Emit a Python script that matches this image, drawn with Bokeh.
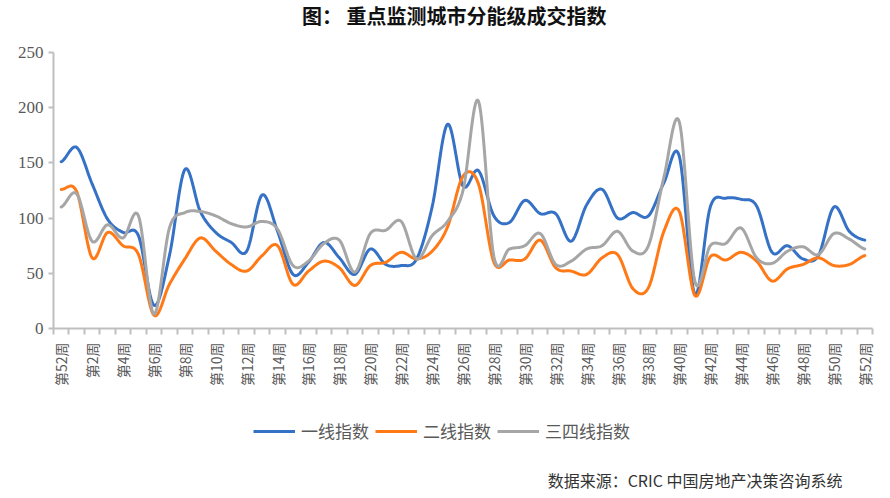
import numpy as np
from bokeh.plotting import figure
from bokeh.layouts import column
from bokeh.models import (FixedTicker, Legend, LegendItem, Range1d, Label)
from bokeh.embed import file_html
from bokeh.resources import INLINE

# ---- data ----
weeks = [52] + list(range(1, 53))
week_labels = ["第%d周" % w for w in weeks]
tier1 = [151, 164, 131, 99, 87, 84, 21, 66, 144, 106, 87, 78, 70, 121, 88, 49,
         60, 78, 64, 49, 72, 58, 57, 63, 110, 185, 129, 143, 102, 96, 116, 104, 104, 79,
         112, 126, 100, 105, 102, 132, 156, 31, 110, 118, 117, 111, 69, 75, 63, 66, 110, 88, 80]
tier2 = [126, 124, 64, 87, 75, 67, 12, 40, 63, 82, 70, 58, 52, 66, 75, 40,
         52, 61, 55, 39, 57, 60, 69, 63, 70, 92, 138, 131, 60, 62, 63, 80, 55, 52,
         49, 64, 67, 36, 37, 88, 106, 30, 65, 62, 69, 61, 43, 54, 58, 64, 57, 58, 66]
tier34 = [110, 122, 79, 94, 82, 102, 13, 91, 105, 106, 102, 95, 92, 97, 90, 57,
          61, 77, 80, 51, 86, 89, 97, 63, 84, 97, 125, 206, 65, 72, 75, 86, 58, 61,
          72, 75, 88, 70, 75, 137, 187, 43, 75, 77, 91, 64, 59, 70, 74, 67, 86, 81, 72]
series_names = ["一线指数", "二线指数", "三四线指数"]
series_colors = ["#3572C6", "#FF7A16", "#A6A6A6"]
y_ticks = [0, 50, 100, 150, 200, 250]
title_text = "图：  重点监测城市分能级成交指数"
source_text = "数据来源：CRIC 中国房地产决策咨询系统"

W = 882
LEFT, RIGHT = 53, 10
HEAD_H, MAIN_H, FOOT_H = 30, 378, 84


def smooth(ys, n=16):
    y = np.asarray(ys, dtype=float)
    m = len(y)
    xs_out, ys_out = [], []
    for i in range(m - 1):
        p0 = y[i - 1] if i > 0 else y[i]
        p1, p2 = y[i], y[i + 1]
        p3 = y[i + 2] if i + 2 < m else y[i + 1]
        t = np.linspace(0, 1, n, endpoint=(i == m - 2))
        yy = 0.5 * ((2 * p1) + (-p0 + p2) * t + (2 * p0 - 5 * p1 + 4 * p2 - p3) * t ** 2
                    + (-p0 + 3 * p1 - 3 * p2 + p3) * t ** 3)
        xs_out.extend(i + t)
        ys_out.extend(yy)
    return xs_out, ys_out


def blank(h):
    f = figure(width=W, height=h, output_backend="svg", toolbar_location=None,
               x_axis_type=None, y_axis_type=None, x_range=Range1d(0, W), y_range=Range1d(0, h),
               min_border_left=0, min_border_right=0, min_border_top=0, min_border_bottom=0)
    f.outline_line_color = None
    f.xgrid.visible = False
    f.ygrid.visible = False
    return f


# ---- heading (frame is aligned with the main chart's frame, so x is relative to LEFT) ----
head = blank(HEAD_H)
head.add_layout(Label(x=456 - LEFT, y=HEAD_H - 15, x_units="screen", y_units="screen",
                      text=title_text, text_align="center", text_baseline="middle",
                      text_font="Noto Sans CJK SC", text_font_size="20px",
                      text_font_style="bold", text_color="#111111"))

# ---- main chart ----
p = figure(width=W, height=MAIN_H, output_backend="svg", toolbar_location=None,
           x_range=Range1d(-0.5, len(weeks) - 0.5), y_range=Range1d(0, 250),
           min_border_left=LEFT, min_border_right=RIGHT, min_border_top=22, min_border_bottom=80)
p.outline_line_color = None
p.xgrid.visible = False
p.ygrid.visible = False

axis_color = "#BFBFBF"

p.yaxis.ticker = FixedTicker(ticks=y_ticks)
p.yaxis.axis_line_color = axis_color
p.yaxis.axis_line_width = 2
p.yaxis.major_tick_line_color = axis_color
p.yaxis.major_tick_line_width = 2
p.yaxis.major_tick_out = 5
p.yaxis.major_tick_in = 0
p.yaxis.minor_tick_line_color = None
p.yaxis.major_label_text_font = "Liberation Serif"
p.yaxis.major_label_text_font_size = "17px"
p.yaxis.major_label_text_color = "#595959"
p.yaxis.major_label_standoff = 5

centers = list(range(0, len(weeks), 2))
bounds = [i - 0.5 for i in range(len(weeks) + 1)]
p.xaxis.ticker = FixedTicker(ticks=centers, minor_ticks=bounds)
p.xaxis.major_label_overrides = {i: week_labels[i] for i in centers}
p.xaxis.major_label_orientation = np.pi / 2
p.xaxis.axis_line_color = axis_color
p.xaxis.axis_line_width = 2
p.xaxis.major_tick_line_color = None
p.xaxis.major_tick_out = 0
p.xaxis.major_tick_in = 0
p.xaxis.minor_tick_line_color = axis_color
p.xaxis.minor_tick_line_width = 2
p.xaxis.minor_tick_out = 6
p.xaxis.minor_tick_in = 0
p.xaxis.major_label_text_font = "Noto Sans CJK SC"
p.xaxis.major_label_text_font_size = "14px"
p.xaxis.major_label_text_color = "#595959"
p.xaxis.major_label_standoff = 8

all_series = [tier1, tier2, tier34]
for vals, col in zip(all_series, series_colors):
    sx, sy = smooth(vals)
    p.line(sx, sy, line_color=col, line_width=3, line_join="round", line_cap="round")

# ---- footer: legend + source ----
foot = blank(FOOT_H)
foot.y_range = Range1d(1000, 1000 + FOOT_H)
items = []
for name, vals, col in zip(series_names, all_series, series_colors):
    # same series drawn outside the footer's visible range: only used as legend keys
    r = foot.line(list(range(len(vals))), vals, line_color=col, line_width=3)
    items.append(LegendItem(label=name, renderers=[r]))
legend = Legend(items=items, orientation="horizontal", location=(253 - LEFT, FOOT_H - 25 - 10),
                label_text_font="Noto Sans CJK SC", label_text_font_size="17px",
                label_text_color="#595959", glyph_width=42, glyph_height=20,
                label_height=20, label_standoff=6, spacing=6, padding=0, margin=0,
                border_line_color=None, background_fill_alpha=0)
foot.add_layout(legend, "center")
foot.add_layout(Label(x=842 - LEFT, y=FOOT_H - 71, x_units="screen", y_units="screen",
                      text=source_text, text_align="right", text_baseline="middle",
                      text_font="Noto Sans CJK SC", text_font_size="16px",
                      text_color="#333333"))

layout = column(head, p, foot, spacing=0)
open("out.html", "w").write(file_html(layout, INLINE))
